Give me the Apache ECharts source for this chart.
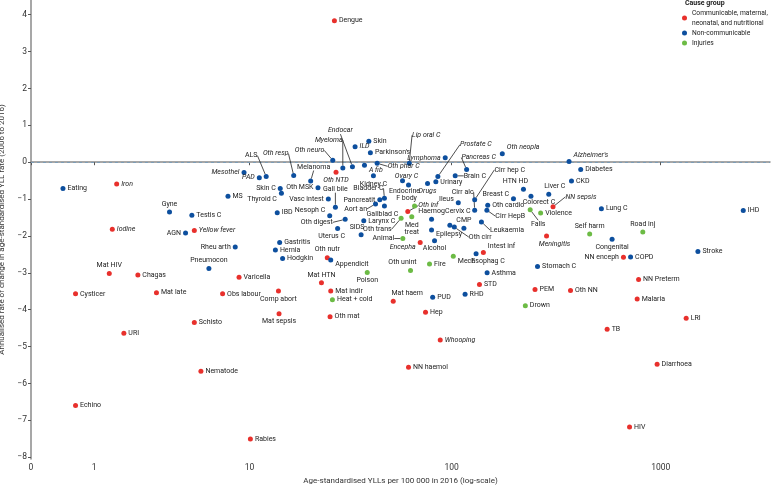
<!DOCTYPE html>
<html>
<head>
<meta charset="utf-8">
<script src="https://cdn.jsdelivr.net/npm/echarts@6/dist/echarts.min.js"></script>
<style>
html, body { margin: 0; padding: 0; background: #fff; }
#chart { width: 773px; height: 487px; }
</style>
</head>
<body>
<div id="chart"></div>
<script>
// Communicable, maternal, neonatal, and nutritional
const cmnnNames = ['Iron', 'Iodine', 'Yellow fever', 'Mat HIV', 'Chagas', 'Cysticer', 'Mat late', 'Schisto', 'URI', 'Echino',
    'Nematode', 'Dengue', 'Oth NTD', 'Oth nutr', 'Varicella', 'Mat HTN', 'Obs labour', 'Comp abort', 'Mat indir', 'Mat haem',
    'Mat sepsis', 'Oth mat', 'Rabies', 'NN sepsis', 'Oth inf', 'Encepha', 'Intest inf', 'Meningitis', 'STD', 'PEM',
    'Oth NN', 'Hep', 'Whooping', 'NN haemol', 'NN enceph', 'NN Preterm', 'Malaria', 'LRI', 'TB', 'Diarrhoea', 'HIV'];
const cmnnYll = [1.56, 1.44, 5.0, 1.36, 2.23, 0.63, 2.96, 5.0, 1.77, 0.63,
    5.45, 26.9, 27.4, 24.8, 8.8, 23.2, 7.18, 14.1, 25.8, 52.2,
    14.2, 25.6, 10.1, 306, 61.4, 70.5, 142, 285, 136, 251,
    371, 74.8, 88.1, 61.9, 664, 784, 772, 1322, 555, 961, 710];
const cmnnChange = [-0.59, -1.82, -1.85, -3.02, -3.06, -3.57, -3.54, -4.35, -4.64, -6.60,
    -5.67, 3.84, -0.27, -2.59, -3.12, -3.27, -3.57, -3.49, -3.49, -3.77,
    -4.11, -4.19, -7.51, -1.21, -1.34, -2.18, -2.45, -2.00, -3.32, -3.45,
    -3.48, -4.07, -4.82, -5.56, -2.58, -3.18, -3.71, -4.23, -4.53, -5.48, -7.18];

// Non-communicable
const ncdNames = ['Eating', 'Gyne', 'Testis C', 'AGN', 'Endocar', 'Myeloma', 'Oth neuro', 'ILD', 'Skin', "Parkinson's",
    'A fib', 'Oth phar C', 'ALS', 'Oth resp', 'Mesothel', 'PAD', 'Melanoma', 'Kidney C', 'Skin C', 'Thyroid C',
    'MS', 'Oth MSK', 'Vasc intest', 'Gall bile', 'Bladder C', 'Pancreatit', 'Aort an', 'Gallblad C', 'Nesoph C', 'IBD',
    'Oth digest', 'Larynx C', 'Uterus C', 'SIDS', 'Rheu arth', 'Gastritis', 'Hernia', 'Hodgkin', 'Pneumocon', 'Appendicit',
    'Lip oral C', 'Lymphoma', 'Prostate C', 'Urinary', 'Oth neopla', 'Pancreas C', "Alzheimer's", 'Cirr hep C', 'Brain C', 'Ovary C',
    'Endocrine', 'Drugs', 'Diabetes', 'CKD', 'HTN HD', 'Liver C', 'Breast C', 'Colorect C', 'Cirr alc', 'Ileus',
    'Oth cardio', 'Cirr HepB', 'Haemog', 'Cervix C', 'Oth cirr', 'CMP', 'Leukaemia', 'Epilepsy', 'Alcohol', 'Esophag C',
    'Asthma', 'Stomach C', 'PUD', 'RHD', 'Lung C', 'IHD', 'Congenital', 'COPD', 'Stroke'];
const ncdYll = [0.42, 3.57, 4.84, 4.45, 33, 29.6, 26.4, 34, 39.7, 40.4,
    37.8, 43.6, 12.2, 16.85, 9.35, 11.24, 20.5, 41.8, 14.4, 14.6,
    7.68, 22.3, 25.1, 27.2, 47.3, 44.9, 42.8, 47.3, 25.5, 13.9,
    30.4, 37.5, 27.9, 36.4, 8.4, 14.3, 13.6, 14.8, 6.04, 25.8,
    62.4, 93.1, 85.8, 83.9, 175, 118, 365, 129, 104, 57.9,
    61.9, 76.5, 415, 375, 221, 292, 198, 240, 129, 107.6,
    149, 147.6, 80, 98, 103, 114.5, 139, 80, 82.7, 131,
    148, 258, 81, 116, 521, 2474, 586, 718, 1504];
const ncdChange = [-0.71, -1.35, -1.44, -1.92, -0.12, -0.16, 0.05, 0.42, 0.57, 0.26,
    -0.08, -0.03, -0.39, -0.36, -0.28, -0.42, -0.51, -0.37, -0.71, -0.84,
    -0.92, -0.69, -1.00, -1.22, -0.98, -1.02, -1.13, -1.19, -1.45, -1.37,
    -1.55, -1.59, -1.80, -1.97, -2.30, -2.18, -2.38, -2.61, -2.88, -2.65,
    -0.03, 0.12, -0.39, -0.53, 0.23, -0.20, 0.02, -1.02, -0.37, -0.50,
    -0.62, -0.58, -0.20, -0.51, -0.73, -0.87, -0.99, -0.92, -1.30, -1.10,
    -1.17, -1.30, -1.55, -1.71, -1.76, -1.79, -1.62, -1.84, -2.13, -2.48,
    -3.00, -2.83, -3.66, -3.58, -1.26, -1.31, -2.09, -2.57, -2.42];

// Injuries
const injNames = ['Poison', 'Heat + cold', 'Falls', 'Violence', 'Self harm', 'Mech', 'Fire', 'Oth unint', 'Drown', 'Road inj',
    'Oth trans', 'F body', 'Med treat', 'Animal'];
const injYll = [39, 26.3, 238, 267, 458, 101.8, 78.2, 63.3, 225.6, 821,
    57, 66.2, 64.2, 58.1];
const injChange = [-2.99, -3.73, -1.29, -1.38, -1.95, -2.55, -2.76, -2.94, -3.89, -1.89,
    -1.52, -1.19, -1.48, -2.07];

const xTicks = [0, 1, 10, 100, 1000];
const yTicks = [-8, -7, -6, -5, -4, -3, -2, -1, 0, 1, 2, 3, 4];

const groupNames = ['Communicable, maternal,\nneonatal, and nutritional', 'Non-communicable', 'Injuries'];

const italicNames = ['Iron', 'Iodine', 'Yellow fever', 'Oth NTD', 'NN sepsis', 'Oth inf', 'Encepha', 'Meningitis', 'Whooping',
    'Mesothel', 'PAD', 'Oth resp', 'Oth neuro', 'Myeloma', 'Endocar', 'ILD', 'A fib', 'Oth phar C', 'Lip oral C',
    'Lymphoma', 'Prostate C', 'Pancreas C', 'Oth neopla', "Alzheimer's", 'Ovary C', 'Drugs'];

// 标签位置: [position, dx, dy, 引线]
const place = {
    'Mat HIV': ['top'], 'Gyne': ['top'], 'AGN': ['left'], 'Oth NTD': ['bottom'], 'Oth nutr': ['top'],
    'Mat HTN': ['top'], 'Comp abort': ['bottom'], 'Mat haem': ['top', 14, 0], 'Mat sepsis': ['bottom'],
    'NN sepsis': ['right', 8, -10, 1], 'Oth inf': ['right', 6, -6, 1], 'Encepha': ['left', 0, 5],
    'Intest inf': ['right', 0, -6], 'Meningitis': ['bottom', 8, 0], 'NN enceph': ['left'],
    'Endocar': ['top', -12, -28, 1], 'Myeloma': ['top', -14, -20, 1], 'Oth neuro': ['left', -4, -10, 1],
    'A fib': ['right', 0, 5], 'Oth phar C': ['right', 6, 3, 1], 'ALS': ['top', -15, -13, 1],
    'Oth resp': ['top', -18, -14, 1], 'Mesothel': ['left'], 'PAD': ['left'], 'Melanoma': ['top', 3, -6, 1],
    'Kidney C': ['bottom'], 'Skin C': ['left'], 'Thyroid C': ['left', 0, 6], 'Oth MSK': ['left'],
    'Vasc intest': ['left'], 'Gall bile': ['top', 0, -10, 1], 'Bladder C': ['top', -16, -2, 1],
    'Pancreatit': ['left'], 'Aort an': ['left', -4, 5, 1], 'Gallblad C': ['bottom', -2, 0],
    'Nesoph C': ['left', 0, -5], 'Oth digest': ['left', -8, 3, 1], 'Uterus C': ['bottom', -6, 0],
    'SIDS': ['top', -4, 0], 'Rheu arth': ['left'], 'Pneumocon': ['top'], 'Appendicit': ['right', 0, 4],
    'Lip oral C': ['top', 17, -20, 1], 'Lymphoma': ['left'], 'Prostate C': ['top', 38, -24, 1],
    'Oth neopla': ['right', 0, -6], 'Pancreas C': ['top', 12, -4, 1], "Alzheimer's": ['right', 0, -6],
    'Cirr hep C': ['top', 35, -22, 1], 'Brain C': ['right', 4, 0, 1], 'Ovary C': ['top', 4, 4],
    'Endocrine': ['bottom', -4, -2], 'Drugs': ['bottom'], 'HTN HD': ['top', -8, 0], 'Liver C': ['top', 6, 0],
    'Breast C': ['left', 0, -4], 'Colorect C': ['bottom', 8, -2], 'Cirr alc': ['top', -12, -10, 1],
    'Ileus': ['left', 0, -4], 'Cirr HepB': ['right', 4, 6, 1], 'Haemog': ['top'],
    'Cervix C': ['top', 8, -6], 'Oth cirr': ['right', 10, 10, 1], 'CMP': ['top'],
    'Leukaemia': ['right', 4, 8, 1], 'Epilepsy': ['right', 0, 4], 'Alcohol': ['bottom'],
    'Esophag C': ['bottom', 12, 0], 'Congenital': ['bottom'], 'Poison': ['bottom'], 'Falls': ['bottom', 8, 6, 1],
    'Self harm': ['top'], 'Mech': ['right', 0, 5], 'Oth unint': ['top', -8, 0], 'Road inj': ['top'],
    'Oth trans': ['left', -5, 11, 1], 'F body': ['top', -8, 0], 'Med treat': ['bottom'],
    'Animal': ['left', -4, 0, 1]
};

const colors = ['#e8302c', '#0d4f9e', '#6cbb45'];
const lg = v => Math.log10(v + 1);
const FONT = 'Roboto, "Liberation Sans", sans-serif';

const names = [cmnnNames, ncdNames, injNames];
const ylls = [cmnnYll, ncdYll, injYll];
const changes = [cmnnChange, ncdChange, injChange];

function buildData(k) {
    return names[k].map(function (n, i) {
        const p = place[n] || ['right'];
        return {
            name: n,
            value: [lg(ylls[k][i]), changes[k][i]],
            label: {position: p[0], fontStyle: italicNames.indexOf(n) >= 0 ? 'italic' : 'normal'},
            labelLine: {show: !!p[3]}
        };
    });
}

const myChart = echarts.init(document.getElementById('chart'));

const series = groupNames.map(function (g, k) {
    const s = {
        name: g,
        type: 'scatter',
        symbolSize: 5,
        itemStyle: {color: colors[k], opacity: 1},
        data: buildData(k),
        label: {
            show: true,
            distance: 2,
            fontSize: 7,
            fontFamily: FONT,
            color: '#222',
            formatter: function (p) {
                return p.name === 'Med treat' ? 'Med\ntreat' : p.name;
            }
        },
        labelLine: {lineStyle: {color: '#222', width: 0.8}},
        labelLayout: function (params) {
            const p = place[names[params.seriesIndex][params.dataIndex]];
            if (!p) return {};
            return {dx: p[1] || 0, dy: p[2] || 0};
        },
        emphasis: {disabled: true},
        z: 3
    };
    if (k === 0) {
        s.markLine = {
            silent: true,
            symbol: 'none',
            label: {show: false},
            lineStyle: {type: [3, 3], color: '#7d9db6', width: 1},
            data: [{yAxis: 0}],
            z: 1
        };
    }
    return s;
});

const option = {
    animation: false,
    textStyle: {fontFamily: FONT},
    grid: {left: 31, right: 3, top: 0, bottom: 28, outerBoundsMode: 'none', containLabel: false},
    legend: {
        data: groupNames,
        orient: 'vertical',
        left: 682,
        top: 8,
        padding: 0,
        icon: 'circle',
        itemWidth: 5,
        itemHeight: 5,
        itemGap: 0,
        textStyle: {fontSize: 6.7, color: '#222', lineHeight: 10, fontFamily: FONT}
    },
    graphic: [{
        type: 'text',
        left: 685,
        top: 0,
        style: {text: 'Cause group', font: 'bold 7px ' + FONT, fill: '#222'}
    }],
    xAxis: {
        type: 'value',
        min: 0,
        max: 3.521,
        name: 'Age-standardised YLLs per 100 000 in 2016 (log-scale)',
        nameLocation: 'middle',
        nameGap: 17,
        nameTextStyle: {fontSize: 8, color: '#333'},
        splitLine: {show: false},
        axisLine: {lineStyle: {color: '#8a8a8a', width: 1.5}},
        axisTick: {show: true, length: 3, customValues: xTicks.map(lg), lineStyle: {color: '#555'}},
        axisLabel: {
            customValues: xTicks.map(lg),
            fontSize: 8.5,
            color: '#333',
            margin: 4,
            formatter: function (v) {
                return String(Math.round(Math.pow(10, v) - 1));
            }
        }
    },
    yAxis: {
        type: 'value',
        min: -8.05,
        max: 4.4,
        name: 'Annualised rate of change in age-standardised YLL rate (2006 to 2016)',
        nameLocation: 'middle',
        nameGap: 18,
        nameTextStyle: {fontSize: 8, color: '#333'},
        splitLine: {show: false},
        axisLine: {show: true, lineStyle: {color: '#8a8a8a', width: 1.5}},
        axisTick: {show: true, length: 3, customValues: yTicks, lineStyle: {color: '#555'}},
        axisLabel: {
            customValues: yTicks,
            fontSize: 8.5,
            color: '#333',
            margin: 4,
            formatter: function (v) {
                return v < 0 ? '\u2212' + Math.abs(v) : String(v);
            }
        }
    },
    series: series
};

myChart.setOption(option);
</script>
</body>
</html>
